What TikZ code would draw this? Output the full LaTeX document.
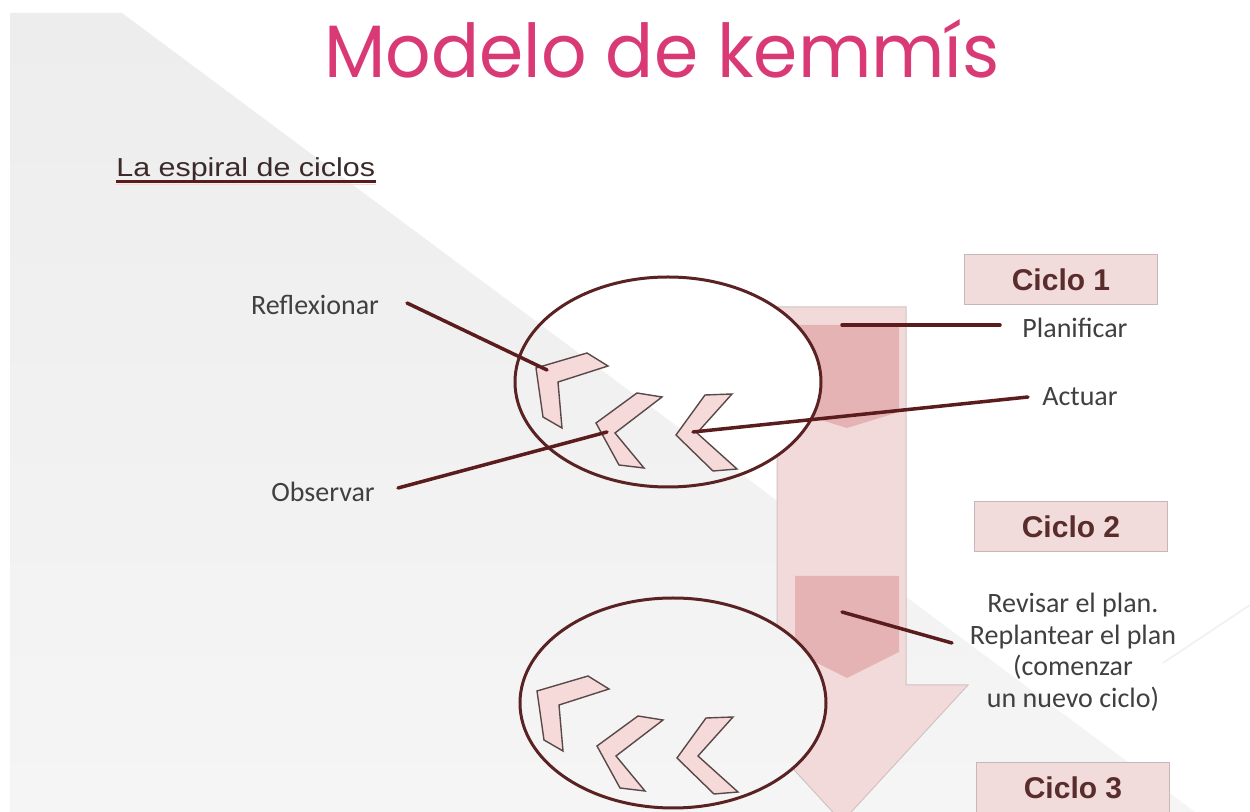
\documentclass[tikz,border=0pt]{standalone}
\usepackage{fontspec}
\usepackage{graphicx}
\setmainfont{Carlito}
\newfontfamily\arialf{Liberation Sans}
\newfontfamily\titlef{Poppins}
\definecolor{bggreyA}{HTML}{EDEDED}
\definecolor{bggreyB}{HTML}{F5F5F5}
\definecolor{shaft}{HTML}{F2DADA}
\definecolor{shaftline}{HTML}{D2C2C2}
\definecolor{blockc}{HTML}{E5B3B3}
\definecolor{ellline}{HTML}{5A2222}
\definecolor{connc}{HTML}{5A1C1C}
\definecolor{chevfill}{HTML}{F6DADA}
\definecolor{chevline}{HTML}{5A4848}
\definecolor{boxfill}{HTML}{F2DCDB}
\definecolor{boxline}{HTML}{C9B7B7}
\definecolor{cictext}{HTML}{5A2D2D}
\definecolor{lbltext}{HTML}{404040}
\definecolor{titlepink}{HTML}{D93A76}
\definecolor{subtext}{HTML}{3C2A2A}
\begin{document}
\begin{tikzpicture}[x=0.5pt,y=-0.5pt,
  bgwedge/.style={top color=bggreyA, bottom color=bggreyB},
  conn/.style={draw=connc, line width=1.75pt, line cap=round},
  chev/.style={fill=chevfill, draw=chevline, line width=0.7pt, line join=miter},
  ell/.style={draw=ellline, line width=1.5pt},
  lbl/.style={text=lbltext, font=\fontsize{14}{15.75}\selectfont, inner sep=0pt},
  ciclo/.style={fill=boxfill, draw=boxline, line width=0.5pt, minimum width=96.5pt,
    minimum height=25pt, inner sep=0pt, text=cictext,
    font=\arialf\bfseries\fontsize{15}{18}\selectfont}]
\useasboundingbox (0,0) rectangle (1250,812);
\fill[white] (0,0) rectangle (1250,812);
% background wedge
\shade[bgwedge] (10,13) -- (122,13) -- (1195,812) -- (10,812) -- cycle;
\draw[white!88!gray, line width=0.8pt] (1163,663) -- (1250,605);
% big arrow
\path[fill=shaft, draw=shaftline, line width=0.5pt]
  (777,307) -- (906,307) -- (906,685) -- (968,685) -- (842,822) -- (716,685) -- (777,685) -- cycle;
\fill[blockc] (795,325) -- (899,325) -- (899,412) -- (847,428) -- (795,412) -- cycle;
\fill[blockc] (795,576) -- (899,576) -- (899,652) -- (847,678) -- (795,652) -- cycle;
% ellipses
\begin{scope}
  \clip (668,382) ellipse [x radius=76.5pt, y radius=52.5pt];
  \fill[white] (0,0) rectangle (1250,812);
  \shade[bgwedge] (10,13) -- (122,13) -- (1195,812) -- (10,812) -- cycle;
\end{scope}
\begin{scope}
  \clip (673,703) ellipse [x radius=76.5pt, y radius=52.5pt];
  \fill[white] (0,0) rectangle (1250,812);
  \shade[bgwedge] (10,13) -- (122,13) -- (1195,812) -- (10,812) -- cycle;
\end{scope}
\draw[ell] (668,382) ellipse [x radius=76.5pt, y radius=52.5pt];
\draw[ell] (673,703) ellipse [x radius=76.5pt, y radius=52.5pt];
% chevrons
\foreach \dy/\dx in {0/0, 323/1} {
  \begin{scope}[shift={(\dx,\dy)}]
    \path[chev] (536,368) -- (587,353) -- (608,366) -- (558,382) -- (562,428) -- (543,417) -- cycle;
    \path[chev] (596,423) -- (637,393) -- (662,397) -- (615,433) -- (644,468) -- (619,465) -- cycle;
    \path[chev] (676,435) -- (705,395) -- (732,394) -- (697,433) -- (737,469) -- (713,471) -- cycle;
  \end{scope}
}
% connector end points
\coordinate (chA) at (547,370);
\coordinate (chB) at (607,432);
\coordinate (chC) at (693,432);
\coordinate (blk1) at (842,325);
\coordinate (blk2) at (842,612);
\coordinate (reflS) at (407,303);
\coordinate (obsS) at (398,488);
\coordinate (actS) at (1028,397);
\coordinate (planS) at (1000,325);
\coordinate (revS) at (952,643);
% labels
\node[lbl] (refl) at (315,305) {Reflexionar};
\node[lbl] (obs) at (323,492) {Observar};
\node[lbl] (plan) at (1075,328) {Planificar};
\node[lbl] (act) at (1080,397) {Actuar};
\node[lbl, align=center] (rev) at (1073,652) {Revisar el plan.\\Replantear el plan\\(comenzar\\un nuevo ciclo)};
% connectors
\draw[conn] (reflS) -- (chA);
\draw[conn] (obsS) -- (chB);
\draw[conn] (actS) -- (chC);
\draw[conn] (planS) -- (blk1);
\draw[conn] (revS) -- (blk2);
% cycle boxes
\node[ciclo] (c1) at (1061,280) {Ciclo 1};
\node[ciclo] (c2) at (1071,527) {Ciclo 2};
\node[ciclo] (c3) at (1073,788) {Ciclo 3};
% title
\node[anchor=base, text=titlepink, inner sep=0pt] (title) at (662,78)
  {\resizebox{337.5pt}{29pt}{\titlef Modelo de kemmís}};
% subtitle
\node[anchor=base west, inner sep=0pt, text=subtext] (sub) at (116,177)
  {\arialf\fontsize{13}{15}\selectfont\scalebox{1.17}[1]{La espiral de ciclos}};
\draw[draw=connc, line width=1.3pt] ([yshift=-2.4pt]sub.base west) -- ([yshift=-2.4pt]sub.base east);
\draw[draw=chevfill, line width=0.9pt] ([yshift=-3.8pt]sub.base west) -- ([yshift=-3.8pt]sub.base east);
\end{tikzpicture}
\end{document}
